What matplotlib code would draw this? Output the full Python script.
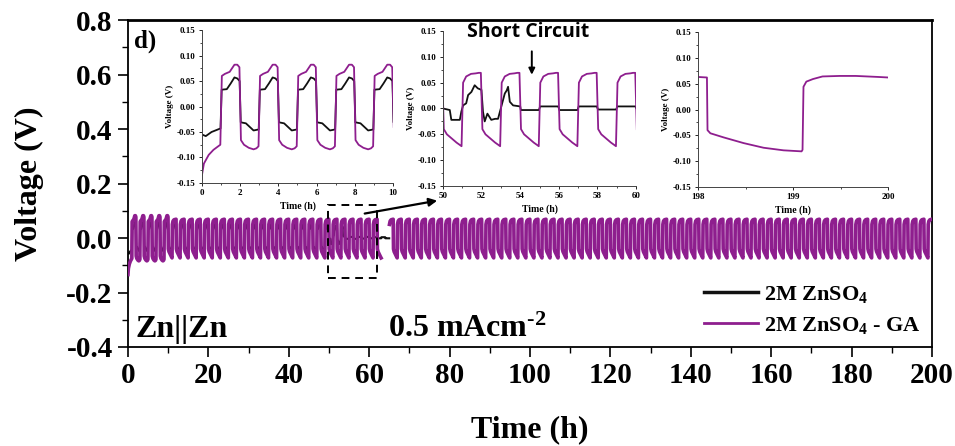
import numpy as np
import matplotlib
matplotlib.use('Agg')
import matplotlib.pyplot as plt
from matplotlib.ticker import MultipleLocator
from matplotlib.lines import Line2D
from matplotlib.patches import Rectangle

plt.rcParams['font.family'] = ['Liberation Serif', 'DejaVu Serif']
plt.rcParams['font.weight'] = 'bold'
plt.rcParams['mathtext.fontset'] = 'custom'
plt.rcParams['mathtext.rm'] = 'Liberation Serif:bold'
plt.rcParams['mathtext.it'] = 'Liberation Serif:bold'
plt.rcParams['mathtext.bf'] = 'Liberation Serif:bold'
plt.rcParams['mathtext.default'] = 'rm'
plt.rcParams['axes.unicode_minus'] = False

PURPLE = '#8E1E8E'
BLACK = '#111111'

# ---------------- data ----------------
# offsets (h) inside a 1 h half-cycle at which voltages were read
tpl_t = [0.04, 0.20, 0.45, 0.70, 0.85, 0.96]
# 2M ZnSO4 - GA, early cycles (0-10 h inset)
ga_pos_early = [0.060, 0.064, 0.068, 0.082, 0.082, 0.077]
ga_neg_early = [-0.066, -0.075, -0.081, -0.084, -0.082, -0.078]
# 2M ZnSO4 - GA, later cycles (50-60 h inset)
ga_pos_mid = [0.050, 0.062, 0.067, 0.068, 0.069, 0.069]
ga_neg_mid = [-0.040, -0.050, -0.058, -0.066, -0.070, -0.073]
# first hour (stripping from fresh electrode)
ga_first_t = [0.0, 0.10, 0.35, 0.60, 0.85, 0.96]
ga_first_v = [-0.134, -0.112, -0.095, -0.085, -0.078, -0.075]
ga_gap = (63.0, 65.0)          # missing data in GA curve
ga_end = 200

# 2M ZnSO4 (bare) cycles before the short
bk_tpl_t = [0.03, 0.30, 0.50, 0.70, 0.85, 0.97]
bk_pos = [0.033, 0.034, 0.045, 0.057, 0.055, 0.050]
bk_neg = [-0.031, -0.033, -0.040, -0.047, -0.046, -0.045]
bk_first_t = [0.0, 0.20, 0.50, 0.97]
bk_first_v = [-0.055, -0.058, -0.050, -0.043]
# 50-54 h, irregular voltage before short circuit
bk_sc_t = [50.0, 50.35, 50.43, 50.87, 50.95, 51.04, 51.2, 51.3, 51.47, 51.64, 51.8, 51.99,
           52.07, 52.16, 52.3, 52.5, 52.7, 52.85, 52.95, 53.03, 53.2, 53.3, 53.37, 53.46,
           53.63, 53.8, 54.0]
bk_sc_v = [0.000, -0.003, -0.022, -0.022, -0.006, 0.006, 0.010, 0.026, 0.032, 0.045, 0.039, 0.036,
           -0.006, -0.025, -0.010, -0.022, -0.020, -0.020, -0.006, 0.006, 0.029, 0.035, 0.042, 0.013,
           0.006, 0.005, 0.004]
# short-circuited half-cycles 54-65 h
bk_short_v = [-0.003, 0.004, -0.003, 0.004, -0.002, 0.004, -0.001, 0.003, -0.001, 0.003, -0.001]
bk_short_start = 54

# 198-200 h inset (GA)
ga_late_t = [198.0, 198.094, 198.10, 198.13, 198.27, 198.48, 198.69, 198.90, 199.09, 199.10,
             199.11, 199.14, 199.21, 199.31, 199.49, 199.66, 199.90, 200.0]
ga_late_v = [0.063, 0.062, -0.040, -0.046, -0.054, -0.065, -0.074, -0.079, -0.081, -0.078,
             0.044, 0.054, 0.059, 0.064, 0.065, 0.065, 0.063, 0.062]

# ---------------- assemble series ----------------
def half(start, offs, vals):
    return [start + o for o in offs], list(vals)

ga_t, ga_v = list(ga_first_t), list(ga_first_v)
for k in range(1, ga_end):
    if ga_gap[0] <= k < ga_gap[1]:
        if k == int(ga_gap[0]):
            ga_t.append(np.nan); ga_v.append(np.nan)
        continue
    odd = (k % 2 == 1)
    if k < 10:
        vals = ga_pos_early if odd else ga_neg_early
    else:
        vals = ga_pos_mid if odd else ga_neg_mid
    t, v = half(k, tpl_t, vals)
    ga_t += t; ga_v += v
ga_t = np.array(ga_t); ga_v = np.array(ga_v)

bk_t, bk_v = list(bk_first_t), list(bk_first_v)
for k in range(1, 50):
    vals = bk_pos if k % 2 == 1 else bk_neg
    t, v = half(k, bk_tpl_t, vals)
    bk_t += t; bk_v += v
bk_t += bk_sc_t; bk_v += bk_sc_v
for i, lvl in enumerate(bk_short_v):
    s = bk_short_start + i
    bk_t += [s + 0.03, s + 0.97]; bk_v += [lvl, lvl]
bk_t = np.array(bk_t); bk_v = np.array(bk_v)

# ---------------- figure ----------------
fig = plt.figure(figsize=(9.55, 4.46), dpi=100)
ax = fig.add_axes([0.134, 0.222, 0.842, 0.733])
ax.plot(bk_t, bk_v, color=BLACK, lw=1.5, zorder=2)
ax.plot(ga_t, ga_v, color=PURPLE, lw=2.6, zorder=3, solid_joinstyle='round')
ax.set_xlim(0, 200)
ax.set_ylim(-0.4, 0.8)
ax.xaxis.set_major_locator(MultipleLocator(20))
ax.xaxis.set_minor_locator(MultipleLocator(10))
ax.yaxis.set_major_locator(MultipleLocator(0.2))
ax.yaxis.set_minor_locator(MultipleLocator(0.1))
ax.yaxis.set_major_formatter(matplotlib.ticker.FormatStrFormatter('%.1f'))
ax.tick_params(which='major', direction='out', length=7, width=1.2, labelsize=21, pad=4)
ax.tick_params(which='minor', direction='out', length=4, width=1.0)
for sp in ax.spines.values():
    sp.set_linewidth(1.3)
ax.spines['top'].set_linewidth(2.0)
ax.set_xlabel('Time (h)', fontsize=23, fontweight='bold')
ax.set_ylabel('Voltage (V)', fontsize=23, fontweight='bold')
ax.yaxis.set_label_coords(-0.105, 0.5)
ax.xaxis.set_label_coords(0.5, -0.21)

ax.text(0.007, 0.917, 'd)', transform=ax.transAxes, fontsize=18, fontweight='bold', va='baseline')
ax.text(0.009, 0.031, 'Zn||Zn', transform=ax.transAxes, fontsize=23, fontweight='bold', va='baseline')
ax.text(0.323, 0.031, '0.5 mAcm$^{\u2010 2}$', transform=ax.transAxes, fontsize=23,
        fontweight='bold', va='baseline')

# dashed zoom box and arrow
ax.add_patch(Rectangle((49.75, -0.147), 62.0 - 49.75, 0.121 + 0.147, fill=False,
                       ls=(0, (4, 3)), lw=1.4, ec='black', zorder=5))
ax.annotate('', xy=(77.6, 0.139), xytext=(58.2, 0.088),
            arrowprops=dict(arrowstyle='-|>', lw=1.6, color='black', mutation_scale=12), zorder=6)

handles = [Line2D([], [], color=BLACK, lw=2.5), Line2D([], [], color=PURPLE, lw=2.0)]
ax.legend(handles, ['2M ZnSO$_4$', '2M ZnSO$_4$ - GA'], loc='lower right', frameon=False,
          fontsize=16, handlelength=2.4, handletextpad=0.3, borderaxespad=0.1, labelspacing=0.45,
          bbox_to_anchor=(1.0, 0.0))

# ---------------- insets ----------------
def style_inset(a, xlim, xmaj, xmin):
    a.set_xlim(*xlim)
    a.set_ylim(-0.15, 0.15)
    a.xaxis.set_major_locator(MultipleLocator(xmaj))
    a.xaxis.set_minor_locator(MultipleLocator(xmin))
    a.yaxis.set_major_locator(MultipleLocator(0.05))
    a.yaxis.set_minor_locator(MultipleLocator(0.025))
    a.yaxis.set_major_formatter(matplotlib.ticker.FormatStrFormatter('%.2f'))
    a.tick_params(which='major', direction='out', length=2.5, width=0.6, labelsize=6.5, pad=2)
    a.tick_params(which='minor', direction='out', length=1.5, width=0.5)
    a.spines['top'].set_visible(False)
    a.spines['right'].set_visible(False)
    for s in ('left', 'bottom'):
        a.spines[s].set_linewidth(0.7)
        a.spines[s].set_color('#444444')
    a.set_xlabel('Time (h)', fontsize=7, fontweight='bold', labelpad=3)
    a.set_ylabel('Voltage (V)', fontsize=6.5, fontweight='bold', labelpad=2)
    a.patch.set_alpha(0.0)

in1 = fig.add_axes([0.2115, 0.5897, 0.200, 0.343])
in1.plot(bk_t, bk_v, color=BLACK, lw=1.3)
in1.plot(ga_t, ga_v, color=PURPLE, lw=1.3)
style_inset(in1, (0, 10), 2, 1)

in2 = fig.add_axes([0.4639, 0.583, 0.2021, 0.3475])
in2.plot(bk_t, bk_v, color=BLACK, lw=1.3)
in2.plot(ga_t, ga_v, color=PURPLE, lw=1.3)
style_inset(in2, (50, 60), 2, 1)
in2.text(54.4, 0.149, 'Short Circuit', fontsize=14, fontweight='bold', ha='center', va='center',
         family=['Open Sans', 'DejaVu Sans'], clip_on=False)
in2.annotate('', xy=(54.6, 0.060), xytext=(54.6, 0.116),
             arrowprops=dict(arrowstyle='-|>', lw=1.4, color='black', mutation_scale=9),
             annotation_clip=False)

in3 = fig.add_axes([0.7309, 0.5807, 0.199, 0.3475])
in3.plot(ga_late_t, ga_late_v, color=PURPLE, lw=1.3)
style_inset(in3, (198, 200), 1, 0.5)

fig.savefig('out.png', dpi=100)
